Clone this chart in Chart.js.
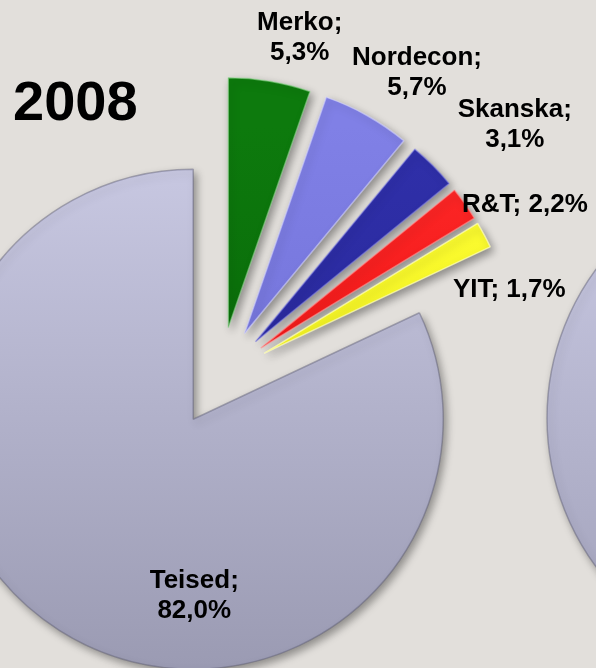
<!DOCTYPE html>
<html>
<head>
<meta charset="utf-8">
<script src="https://cdn.jsdelivr.net/npm/chart.js@4.4.0/dist/chart.umd.min.js"></script>
<style>
html,body{margin:0;padding:0;width:596px;height:668px;overflow:hidden;background:#e2dfdb;}
#wrap1{position:absolute;left:0;top:0;width:596px;height:668px;}
#wrap2{position:absolute;left:497px;top:0;width:600px;height:668px;}
canvas{display:block;}
</style>
</head>
<body>
<div id="wrap1"><canvas id="c1" width="596" height="668"></canvas></div>
<div id="wrap2"><canvas id="c2" width="600" height="668"></canvas></div>
<script>
// ---- data ----
const yearLabel = '2008';
const categories = ['Merko', 'Nordecon', 'Skanska', 'R&T', 'YIT', 'Teised'];
const shares2008 = [5.3, 5.7, 3.1, 2.2, 1.7, 82.0];
// the neighbouring (cut-off) pie on the right edge, only its grey part is visible
const nextPieCategories = ['Teised'];
const nextPieValues = [100];

// ---- styles / layout ----
const topColors    = ['#0d7a0d', '#8080e6', '#3030aa', '#ff2a2a', '#ffff3a', '#cbcbe5'];
const bottomColors = ['#065a06', '#6666cc', '#20208c', '#e00000', '#e6e600', '#9a9ab2'];
const rimColors    = ['rgba(150,220,150,0.55)', 'rgba(210,210,255,0.6)', 'rgba(130,130,230,0.55)',
                      'rgba(255,150,150,0.6)', 'rgba(255,255,190,0.7)', 'rgba(90,90,115,0.45)'];
const labelSingleLine = [false, false, false, true, true, false];
const labelNudge = [[30, -51], [50, -50], [82, -49], [60, 8], [25, 62], [135, -42]];
const PIE_RADIUS = 250;
const EXPLODE = 50;
const FONT = '"Liberation Sans", Arial, sans-serif';

function fmtPct(v) { return v.toFixed(1).replace('.', ',') + '%'; }

function gradientFor(ctx, i, tops, bottoms) {
  const chart = ctx.chart;
  const area = chart.chartArea;
  if (!area) return tops[i];
  const cy = (area.top + area.bottom) / 2;
  const g = chart.ctx.createLinearGradient(0, cy - PIE_RADIUS, 0, cy + PIE_RADIUS + EXPLODE);
  g.addColorStop(0, tops[i]);
  g.addColorStop(1, bottoms[i]);
  return g;
}

const explodePlugin = {
  id: 'explode',
  afterDatasetsUpdate(chart, args, opts) {
    const d = opts.distance || 0;
    chart.getDatasetMeta(0).data.forEach(arc => {
      const mid = (arc.startAngle + arc.endAngle) / 2;
      arc.x += Math.cos(mid) * d;
      arc.y += Math.sin(mid) * d;
    });
  }
};

const shadowPlugin = {
  id: 'shadow',
  beforeDatasetsDraw(chart) {
    const c = chart.ctx;
    c.save();
    c.shadowColor = 'rgba(0,0,0,0.38)';
    c.shadowBlur = 9;
    c.shadowOffsetX = 3;
    c.shadowOffsetY = 4;
  },
  afterDatasetsDraw(chart) { chart.ctx.restore(); }
};

const labelPlugin = {
  id: 'pieLabels',
  afterDatasetsDraw(chart, args, opts) {
    if (!opts.show) return;
    const c = chart.ctx;
    const meta = chart.getDatasetMeta(0);
    c.save();
    c.fillStyle = '#000';
    c.font = 'bold 26px ' + FONT;
    c.textAlign = 'center';
    c.textBaseline = 'alphabetic';
    meta.data.forEach((arc, i) => {
      const mid = (arc.startAngle + arc.endAngle) / 2;
      const ax = arc.x + Math.cos(mid) * arc.outerRadius + labelNudge[i][0];
      const ay = arc.y + Math.sin(mid) * arc.outerRadius + labelNudge[i][1];
      const name = chart.data.labels[i] + ';';
      const pct = fmtPct(chart.data.datasets[0].data[i]);
      if (labelSingleLine[i]) {
        c.fillText(name + ' ' + pct, ax, ay);
      } else {
        c.fillText(name, ax, ay);
        c.fillText(pct, ax, ay + 30);
      }
    });
    c.font = 'bold 56px ' + FONT;
    c.textAlign = 'left';
    c.fillText(opts.title, 13, 120);
    c.restore();
  }
};

new Chart(document.getElementById('c1'), {
  type: 'pie',
  data: {
    labels: categories,
    datasets: [{
      data: shares2008,
      backgroundColor: ctx => gradientFor(ctx, ctx.dataIndex, topColors, bottomColors),
      borderColor: rimColors,
      borderWidth: 1.5,
      clip: false
    }]
  },
  options: {
    responsive: false,
    animation: false,
    events: [],
    radius: PIE_RADIUS,
    layout: { padding: { left: 0, right: 156, top: 86, bottom: 0 } },
    plugins: {
      legend: { display: false },
      tooltip: { enabled: false },
      explode: { distance: EXPLODE },
      pieLabels: { show: true, title: yearLabel }
    }
  },
  plugins: [explodePlugin, shadowPlugin, labelPlugin]
});

new Chart(document.getElementById('c2'), {
  type: 'pie',
  data: {
    labels: nextPieCategories,
    datasets: [{
      data: nextPieValues,
      backgroundColor: ctx => gradientFor(ctx, 0, ['#cacae4'], ['#9c9cb4']),
      borderColor: 'rgba(90,90,115,0.45)',
      borderWidth: 1.5,
      clip: false
    }]
  },
  options: {
    responsive: false,
    animation: false,
    events: [],
    radius: PIE_RADIUS,
    layout: { padding: { left: 0, right: 0, top: 168, bottom: 0 } },
    plugins: {
      legend: { display: false },
      tooltip: { enabled: false },
      pieLabels: { show: false }
    }
  },
  plugins: [shadowPlugin]
});
</script>
</body>
</html>
